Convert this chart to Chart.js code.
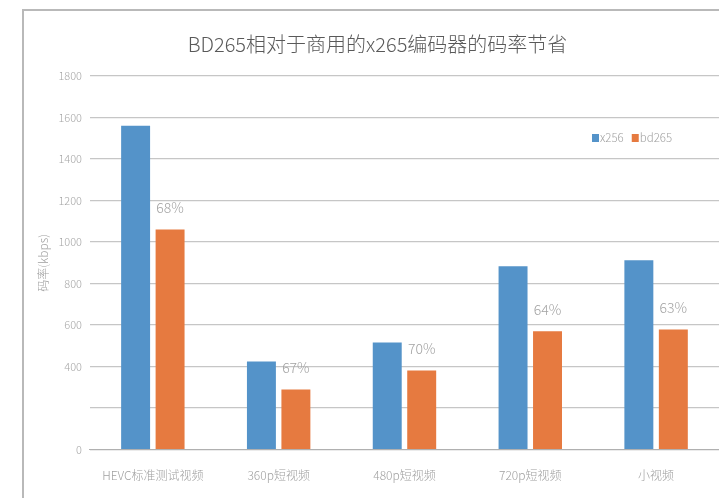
<!DOCTYPE html>
<html>
<head>
<meta charset="utf-8">
<script src="https://cdn.jsdelivr.net/npm/chart.js@4/dist/chart.umd.min.js"></script>
<style>
  html, body { margin: 0; padding: 0; background: #fff; }
  #wrap { position: relative; width: 719px; height: 498px; overflow: hidden; }
  #frame { position: absolute; left: 22px; top: 9px; right: -5px; bottom: -5px;
           border-top: 2px solid #b9b9b9; border-left: 2px solid #b9b9b9; }
  canvas { position: absolute; left: 0; top: 0; }
</style>
</head>
<body>
<div id="wrap">
  <div id="frame"></div>
  <canvas id="chart" width="719" height="498"></canvas>
</div>
<script>
const categories = ['HEVC标准测试视频', '360p短视频', '480p短视频', '720p短视频', '小视频'];
const x256Values = [1560, 425, 516, 883, 912];
const bd265Values = [1060, 290, 381, 570, 579];
const savingLabels = ['68%', '67%', '70%', '64%', '63%'];
const hiddenTicks = [200];

const FONT = '"Noto Sans CJK SC", "Noto Sans", sans-serif';
const BLUE = '#5493c9';
const ORANGE = '#e67a40';

Chart.defaults.font.family = FONT;
Chart.defaults.font.weight = 300;
Chart.defaults.color = '#a0a0a0';

// percentage labels over the orange bars, plus the small legend inside the plot
const extras = {
  id: 'extras',
  afterDatasetsDraw(chart) {
    const ctx = chart.ctx;
    const area = chart.chartArea;
    const meta = chart.getDatasetMeta(1);
    ctx.save();
    ctx.font = '300 14px ' + FONT;
    ctx.fillStyle = '#a3a3a3';
    ctx.textAlign = 'center';
    ctx.textBaseline = 'middle';
    meta.data.forEach((bar, i) => {
      ctx.fillText(savingLabels[i], bar.x, bar.y - 22);
    });

    ctx.font = '300 11.5px ' + FONT;
    ctx.textAlign = 'left';
    let lx = area.right - 127;
    const ly = area.top + 62;
    chart.data.datasets.forEach(ds => {
      ctx.fillStyle = ds.backgroundColor;
      ctx.fillRect(lx, ly - 4, 7, 8);
      ctx.fillStyle = '#a0a0a0';
      ctx.fillText(ds.label, lx + 8, ly);
      lx += 8 + ctx.measureText(ds.label).width + 8;
    });
    ctx.restore();
  }
};

new Chart(document.getElementById('chart'), {
  type: 'bar',
  data: {
    labels: categories,
    datasets: [
      { label: 'x256', data: x256Values, backgroundColor: BLUE },
      { label: 'bd265', data: bd265Values, backgroundColor: ORANGE }
    ]
  },
  options: {
    responsive: false,
    animation: false,
    categoryPercentage: 0.548,
    barPercentage: 0.84,
    layout: { padding: { left: 36, right: 0, top: 0, bottom: 4 } },
    plugins: {
      legend: { display: false },
      tooltip: { enabled: false },
      title: {
        display: true,
        text: 'BD265相对于商用的x265编码器的码率节省',
        color: '#595959',
        font: { size: 20, weight: 300 },
        padding: { top: 32, bottom: 20 }
      }
    },
    scales: {
      x: {
        grid: { display: false },
        border: { color: '#b0b0b0', width: 1 },
        ticks: { color: '#a0a0a0', font: { size: 12 }, padding: 11, maxRotation: 0 }
      },
      y: {
        min: 0,
        max: 1800,
        border: { display: false },
        grid: {
          drawTicks: false,
          color: ctx => ctx.tick && ctx.tick.value === 0 ? '#b0b0b0' : '#c6c6c6',
          lineWidth: 1.2
        },
        ticks: {
          stepSize: 200,
          padding: 8,
          color: '#a6a6a6',
          font: { size: 11 },
          callback: v => hiddenTicks.includes(v) ? '' : v
        },
        title: {
          display: true,
          text: '码率(kbps)',
          color: '#a0a0a0',
          font: { size: 12 },
          padding: { top: 0, bottom: 0 }
        }
      }
    }
  },
  plugins: [extras]
});
</script>
</body>
</html>
